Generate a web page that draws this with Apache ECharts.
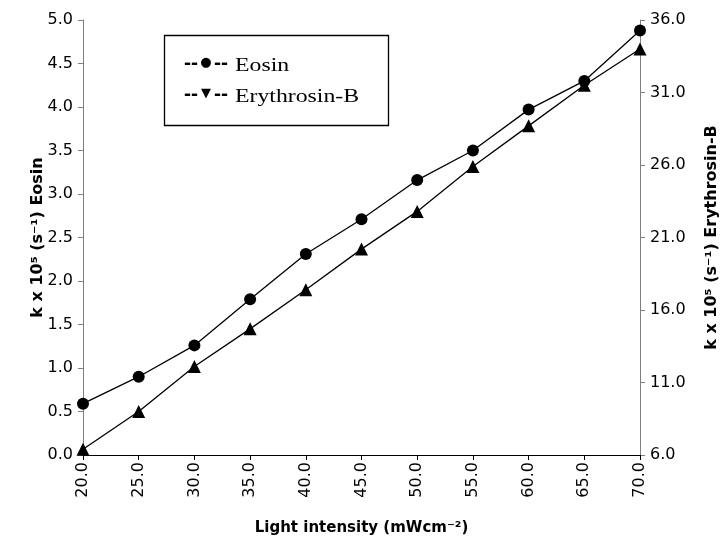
<!DOCTYPE html>
<html>
<head>
<meta charset="utf-8">
<script src="https://cdn.jsdelivr.net/npm/echarts@6/dist/echarts.min.js"></script>
<style>
  html, body { margin: 0; padding: 0; background: #fff; }
  #chart { width: 725px; height: 542px; }
</style>
</head>
<body>
<div id="chart"></div>
<script>
// light intensity (mWcm-2)
const intensity = [20, 25, 30, 35, 40, 45, 50, 55, 60, 65, 70]
// k x 10^5 (s^-1), left axis
const eosin = [0.59, 0.90, 1.26, 1.79, 2.31, 2.71, 3.16, 3.50, 3.97, 4.30, 4.88]
// k x 10^5 (s^-1), right axis
const erythrosin = [6.4, 9.0, 12.1, 14.7, 17.4, 20.2, 22.8, 25.9, 28.7, 31.5, 34.0]
const rightTicks = [6, 11, 16, 21, 26, 31, 36]

const chart = echarts.init(document.getElementById('chart'))

const labelFont = { fontFamily: 'DejaVu Sans', fontSize: 16, color: '#000' }
const nameFont = { fontFamily: 'DejaVu Sans', fontWeight: 'bold', fontSize: 15, color: '#000' }
const yNameFont = { fontFamily: 'DejaVu Sans', fontWeight: 'bold', fontSize: 16, color: '#000' }

// legend drawn by hand: "--●-- Eosin" style like the original
// (the original text is a bit stretched sideways, hence scaleX)
function legendRow (y, mark, label) {
  const dash = { fontFamily: 'Liberation Sans', fontWeight: 'bold', fontSize: 21, fill: '#000', verticalAlign: 'middle' }
  return [
    { type: 'text', x: 184, y: y, style: Object.assign({ text: '--' }, dash) },
    { type: 'text', x: 206, y: y, style: { text: mark, fontFamily: 'DejaVu Sans', fontSize: 13, fill: '#000', align: 'center', verticalAlign: 'middle' } },
    { type: 'text', x: 214, y: y, style: Object.assign({ text: '--' }, dash) },
    { type: 'text', x: 235, y: y + 3, scaleX: 1.25, style: { text: label, fontFamily: 'Liberation Serif', fontSize: 19, fill: '#000', verticalAlign: 'middle' } }
  ]
}

chart.setOption({
  animation: false,
  grid: { left: 83, right: 85, top: 20, bottom: 87, outerBoundsMode: 'none' },
  xAxis: {
    type: 'value',
    min: 20,
    max: 70,
    interval: 5,
    name: 'Light intensity (mWcm⁻²)',
    nameLocation: 'middle',
    nameGap: 66,
    nameMoveOverlap: false,
    nameTextStyle: nameFont,
    axisLine: { lineStyle: { color: '#000', width: 1 } },
    axisTick: { length: 5, lineStyle: { color: '#000' } },
    axisLabel: Object.assign({ rotate: 90, margin: 7, formatter: v => v.toFixed(1) }, labelFont),
    splitLine: { show: false }
  },
  yAxis: [
    {
      type: 'value',
      min: 0,
      max: 5,
      interval: 0.5,
      name: 'k x 10⁵ (s⁻¹) Eosin',
      nameLocation: 'middle',
      nameGap: 37,
      nameMoveOverlap: false,
      nameTextStyle: yNameFont,
      axisLine: { show: true, lineStyle: { color: '#808080', width: 1 } },
      axisTick: { show: true, length: 5, lineStyle: { color: '#808080' } },
      axisLabel: Object.assign({ margin: 10, formatter: v => v.toFixed(1) }, labelFont),
      splitLine: { show: false }
    },
    {
      type: 'value',
      position: 'right',
      min: 6,
      max: 36,
      name: 'k x 10⁵ (s⁻¹) Erythrosin-B',
      nameLocation: 'middle',
      nameGap: 64,
      nameRotate: 90,
      nameMoveOverlap: false,
      nameTextStyle: yNameFont,
      axisLine: { show: true, lineStyle: { color: '#808080', width: 1 } },
      axisTick: { show: true, length: 5, customValues: rightTicks, lineStyle: { color: '#808080' } },
      axisLabel: Object.assign({ margin: 10, customValues: rightTicks, formatter: v => v.toFixed(1) }, labelFont),
      splitLine: { show: false }
    }
  ],
  series: [
    {
      name: 'Eosin',
      type: 'line',
      yAxisIndex: 0,
      data: intensity.map((x, i) => [x, eosin[i]]),
      symbol: 'circle',
      symbolSize: 12,
      itemStyle: { color: '#000' },
      lineStyle: { color: '#000', width: 1.3 }
    },
    {
      name: 'Erythrosin-B',
      type: 'line',
      yAxisIndex: 1,
      data: intensity.map((x, i) => [x, erythrosin[i]]),
      symbol: 'triangle',
      symbolSize: 13,
      itemStyle: { color: '#000' },
      lineStyle: { color: '#000', width: 1.3 }
    }
  ],
  graphic: [
    {
      type: 'rect',
      shape: { x: 164.5, y: 35.5, width: 224, height: 90 },
      style: { fill: '#fff', stroke: '#000', lineWidth: 1.3 }
    }
  ].concat(legendRow(63, '●', 'Eosin'), legendRow(94, '▼', 'Erythrosin-B'))
})
</script>
</body>
</html>
